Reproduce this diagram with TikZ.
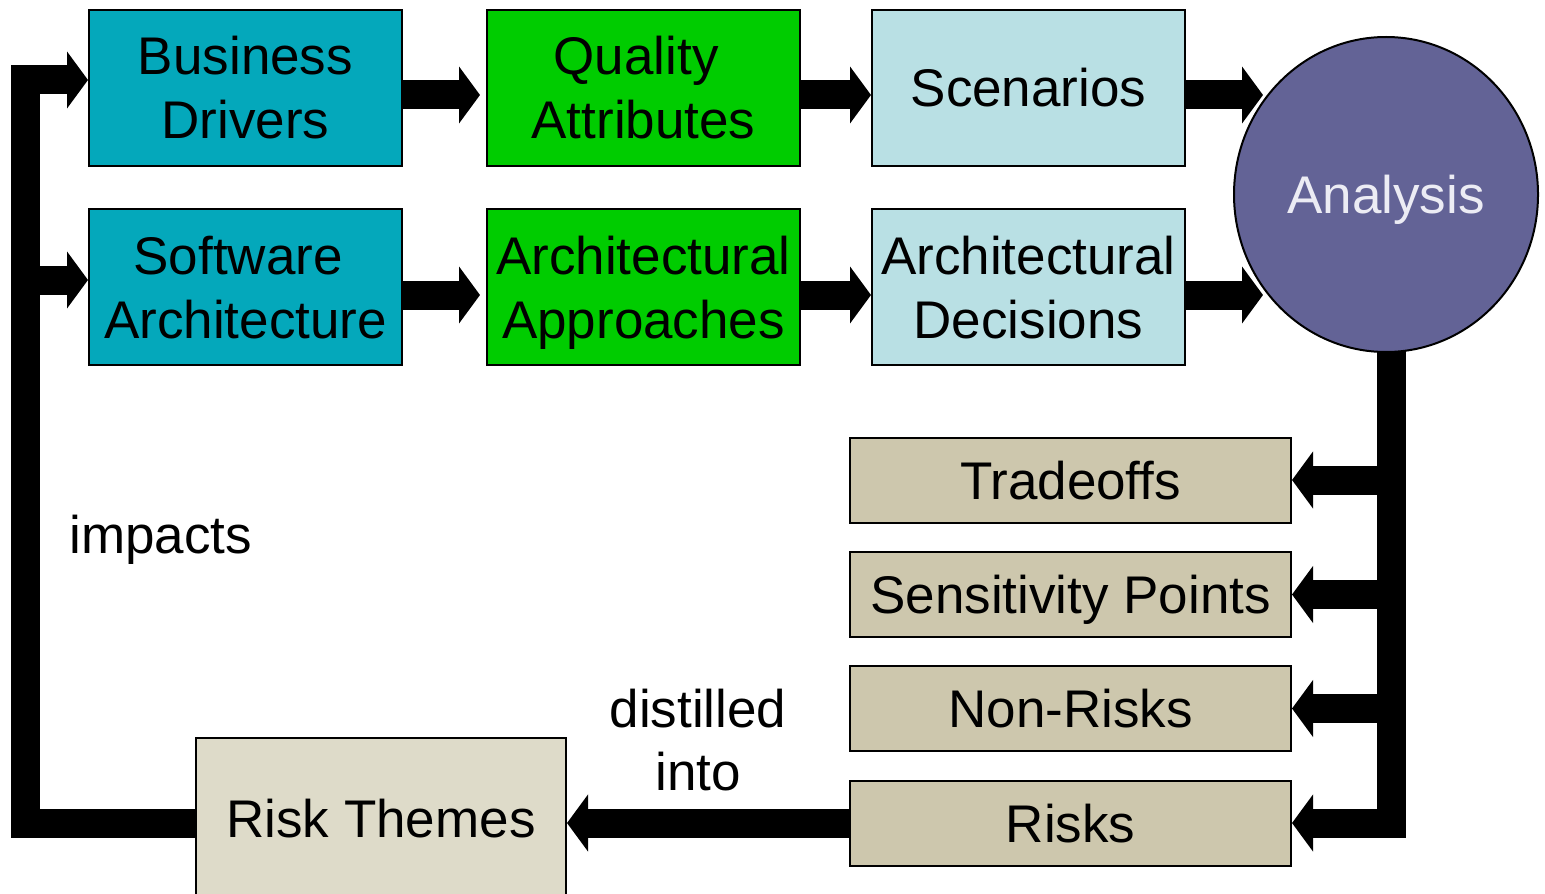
\documentclass[tikz,border=0pt]{standalone}
\usepackage{fontspec}
\setmainfont{Liberation Sans}
\usetikzlibrary{arrows.meta,calc,shapes.geometric}
\definecolor{cteal}{RGB}{4,168,187}
\definecolor{cgreen}{RGB}{0,204,0}
\definecolor{clblue}{RGB}{185,224,228}
\definecolor{ccircle}{RGB}{99,99,150}
\definecolor{ctan}{RGB}{205,199,173}
\definecolor{crisk}{RGB}{222,219,201}
\definecolor{ctext}{RGB}{236,236,244}
\newcommand\ms{\rule[-6pt]{0pt}{31pt}}
\newcommand\trsp{\hspace{0.278em}}
\begin{document}
\begin{tikzpicture}[x=0.5pt,y=-0.5pt,
  txt/.style={font=\fontsize{26.5}{32}\selectfont},
  box/.style={txt,draw=black,line width=1pt,inner sep=0pt,align=center,
    minimum width=156.5pt,minimum height=78pt},
  outbox/.style={txt,draw=black,line width=1pt,inner sep=0pt,align=center,
    minimum width=220.5pt,minimum height=42.5pt,fill=ctan},
  blk/.style={line width=14.5pt,line join=miter,
    -{Triangle[length=10.5pt,width=28pt]}},
]
\useasboundingbox (0,0) rectangle (1545,893);

% top row
\node[box,fill=cteal]  (bd) at (245.5,88)  {Business\ms\\Drivers\ms};
\node[box,fill=cgreen] (qa) at (643.5,88)  {Quality\trsp\ms\\Attributes\ms};
\node[box,fill=clblue] (sc) at (1028.5,88) {Scenarios\ms};
% second row
\node[box,fill=cteal]  (sa) at (245.5,287)  {Software\trsp\ms\\Architecture\ms};
\node[box,fill=cgreen] (aa) at (643.5,287)  {Architectural\ms\\Approaches\ms};
\node[box,fill=clblue] (ad) at (1028.5,287) {Architectural\ms\\Decisions\ms};

% outputs
\node[outbox] (tr) at (1070.5,480)   {Tradeoffs\ms};
\node[outbox] (sp) at (1070.5,594.5) {Sensitivity Points\ms};
\node[outbox] (nr) at (1070.5,708.5) {Non-Risks\ms};
\node[outbox] (ri) at (1070.5,823)   {Risks\ms};

% risk themes
\node[txt,draw=black,line width=1pt,fill=crisk,minimum width=185pt,minimum height=80pt,inner sep=0pt]
  (rt) at (381,818) {Risk Themes\ms};

% right bar and arrows (drawn before the circle)
\coordinate (bt) at (1391.5,300);
\coordinate (bb) at (1391.5,823);
\draw[blk] (bt) -- (bb) -- (ri.east);
\draw[blk] (tr.east -| bb) -- (tr.east);
\draw[blk] (sp.east -| bb) -- (sp.east);
\draw[blk] (nr.east -| bb) -- (nr.east);

% analysis circle
\node[ellipse,draw=black,line width=1pt,fill=ccircle,minimum width=152pt,minimum height=157.5pt,
  inner sep=0pt,txt,text=ctext] (an) at (1386,194.5) {Analysis\ms};

% row arrows
\draw[blk,shorten >=3pt] ($(bd.east)+(0,7)$) -- ($(qa.west)+(0,7)$);
\draw[blk] ($(qa.east)+(0,7)$) -- ($(sc.west)+(0,7)$);
\draw[blk] ($(sc.east)+(0,7)$) -- ($(sc.east)+(77,7)$);
\draw[blk,shorten >=3pt] ($(sa.east)+(0,8)$) -- ($(aa.west)+(0,8)$);
\draw[blk] ($(aa.east)+(0,8)$) -- ($(ad.west)+(0,8)$);
\draw[blk] ($(ad.east)+(0,8)$) -- ($(ad.east)+(77,8)$);

% distilled into
\draw[blk] (ri.west) -- (ri.west -| rt.east);

% impacts loop
\coordinate (lx) at (25.5,823);
\coordinate (lt) at (25.5,80);
\coordinate (lm) at (25.5,280);
\draw[blk] (lx -| rt.west) -- (lx) -- (lt) -- (lt -| bd.west);
\draw[blk] (lm) -- (lm -| sa.west);

% labels
\node[txt,anchor=base west,inner sep=0pt] (imp) at (69,553) {impacts};
\node[txt,anchor=base,inner sep=0pt] (di1) at (698,727) {distilled};
\node[txt,anchor=base,inner sep=0pt] (di2) at (698,790) {into};
\end{tikzpicture}
\end{document}
